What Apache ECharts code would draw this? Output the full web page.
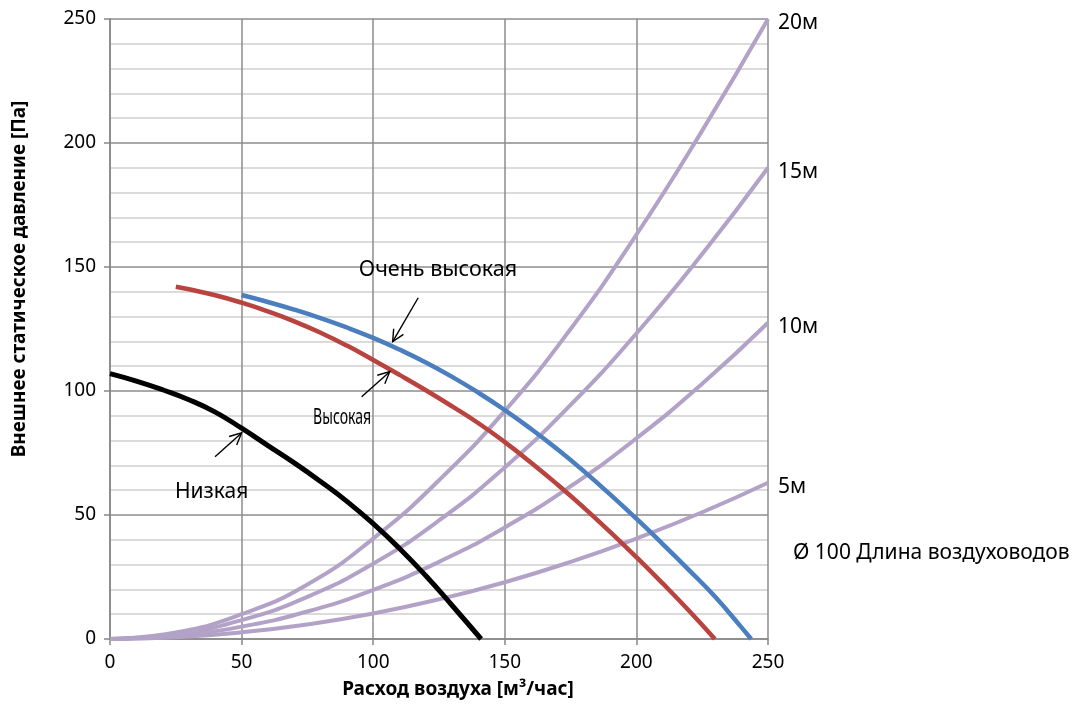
<!DOCTYPE html>
<html>
<head>
<meta charset="utf-8">
<script src="https://cdn.jsdelivr.net/npm/echarts@6/dist/echarts.min.js"></script>
<style>
html,body{margin:0;padding:0;background:#fff;}
#chart{width:1086px;height:709px;}
</style>
</head>
<body>
<div id="chart"></div>
<script>
// ---- data ----
const xTicks = [0, 50, 100, 150, 200, 250];
const yTicks = [0, 50, 100, 150, 200, 250];

const lowX  = [0, 10, 20, 30, 40, 50, 60, 70, 80, 90, 100, 110, 120, 130, 141];
const lowY  = [107, 104, 100.5, 96.5, 91.5, 85, 78, 71, 63.5, 55.5, 46.5, 36.5, 25.5, 13.5, 0];

const highX = [25, 30, 40, 50, 60, 70, 80, 90, 100, 110, 120, 130, 140, 150, 160, 170, 180, 190, 200, 210, 220, 229.8];
const highY = [142, 141, 138.6, 135.6, 132.1, 128.1, 123.5, 118.3, 112.5, 106.5, 100.3, 93.8, 87, 79.4, 71.1, 62.3, 53, 43.2, 33, 22.4, 11.4, 0];

const vhighX = [50, 60, 70, 80, 90, 100, 110, 120, 130, 140, 150, 160, 170, 180, 190, 200, 210, 220, 230, 240, 243.6];
const vhighY = [138.7, 135.9, 132.8, 129.4, 125.6, 121.4, 116.7, 111.5, 105.7, 99.3, 92.3, 84.7, 76.5, 67.7, 58.3, 48.5, 38.3, 27.8, 16.9, 4.6, 0];

const ductX   = [0, 25, 50, 75, 100, 125, 150, 175, 200, 225, 250];
const duct20Y = [0, 2.6, 10, 22, 40.5, 64, 92, 125, 163, 205, 250];
const duct15Y = [0, 2, 7.6, 17, 30.4, 47.8, 69.2, 94.4, 123.2, 155.2, 190];
const duct10Y = [0, 1.4, 5, 11.1, 19.8, 31.1, 45, 61.6, 80.9, 102.9, 127.5];
const duct5Y  = [0, 0.7, 2.7, 5.9, 10.3, 16, 22.9, 31.1, 40.5, 51.1, 63];

const ductNames = ['20м', '15м', '10м', '5м'];
const curveNames = ['Низкая', 'Высокая', 'Очень высокая'];
const xTitle = 'Расход воздуха [м³/час]';
const yTitle = 'Внешнее статическое давление [Па]';
const ductNote = 'Ø 100 Длина воздуховодов';

// annotation anchors in data units
const labelVHigh = [124.6, 148.8];
const labelHigh  = [88.2, 89.1];
const labelLow   = [38.6, 59.4];
const arrowVHigh = [[117.1, 137.6], [107.4, 119.9]];
const arrowHigh  = [[95.6, 97.7], [106.3, 107.8]];
const arrowLow   = [[39.9, 73.5], [50, 83.1]];

const zip = (xs, ys) => xs.map((x, i) => [x, ys[i]]);
const FONT = "'Noto Sans', 'Open Sans', sans-serif";

const chart = echarts.init(document.getElementById('chart'), null, {renderer: 'canvas'});

function ductSeries(name, ys) {
  return {
    name: name, type: 'line', data: zip(ductX, ys), smooth: 0.5, showSymbol: false,
    lineStyle: {color: '#b3a2c7', width: 4}, itemStyle: {color: '#b3a2c7'},
    z: 2,
    endLabel: {show: true, formatter: name, fontSize: 21, fontFamily: FONT, color: '#000', distance: 10, offset: [0, 4]}
  };
}

function mainSeries(name, xs, ys, color, width) {
  return {name: name, type: 'line', data: zip(xs, ys), smooth: 0.5, showSymbol: false,
          lineStyle: {color: color, width: width}, itemStyle: {color: color}, z: 3};
}

const option = {
  animation: false,
  backgroundColor: '#fff',
  grid: {left: 110, top: 19, right: 318, bottom: 70},
  xAxis: {
    type: 'value', min: xTicks[0], max: xTicks[xTicks.length - 1], interval: 50,
    axisLine: {show: true, lineStyle: {color: '#868686', width: 1.5}},
    axisTick: {show: true, length: 6, lineStyle: {color: '#868686', width: 1.5}},
    axisLabel: {fontSize: 19, fontFamily: FONT, color: '#000', margin: 14},
    splitLine: {show: true, lineStyle: {color: '#8c8c8c', width: 1.5}}
  },
  yAxis: {
    type: 'value', min: yTicks[0], max: yTicks[yTicks.length - 1], interval: 50,
    axisLine: {show: true, lineStyle: {color: '#868686', width: 1.5}},
    axisTick: {show: true, length: 6, lineStyle: {color: '#868686', width: 1.5}},
    axisLabel: {fontSize: 19, fontFamily: FONT, color: '#000', margin: 14},
    splitLine: {show: true, lineStyle: {color: '#8c8c8c', width: 1.5}},
    minorTick: {show: false, splitNumber: 5},
    minorSplitLine: {show: true, lineStyle: {color: '#d0d0d0', width: 1.5}}
  },
  series: [
    ductSeries(ductNames[0], duct20Y),
    ductSeries(ductNames[1], duct15Y),
    ductSeries(ductNames[2], duct10Y),
    ductSeries(ductNames[3], duct5Y),
    mainSeries(curveNames[0], lowX, lowY, '#000000', 5),
    mainSeries(curveNames[1], highX, highY, '#b8433f', 4.5),
    mainSeries(curveNames[2], vhighX, vhighY, '#4a7ebe', 4.5)
  ]
};
chart.setOption(option);

// ---- annotations positioned through the chart's own coordinate system ----
const px = (p) => chart.convertToPixel({gridIndex: 0}, p);

function textAt(p, txt, size, extra) {
  const q = px(p);
  return Object.assign({
    type: 'text', x: q[0], y: q[1], z: 10,
    style: {text: txt, fontSize: size, fontFamily: FONT, fill: '#000', align: 'center', verticalAlign: 'middle'}
  }, extra || {});
}

function arrow(seg) {
  const a = px(seg[0]), b = px(seg[1]);
  const ang = Math.atan2(b[1] - a[1], b[0] - a[0]);
  const L = 13, h = 0.45;
  const w1 = [b[0] - L * Math.cos(ang - h), b[1] - L * Math.sin(ang - h)];
  const w2 = [b[0] - L * Math.cos(ang + h), b[1] - L * Math.sin(ang + h)];
  return [
    {type: 'line', z: 10, shape: {x1: a[0], y1: a[1], x2: b[0], y2: b[1]}, style: {stroke: '#000', lineWidth: 1.4}},
    {type: 'polyline', z: 10, shape: {points: [w1, b, w2]}, style: {stroke: '#000', lineWidth: 1.4, fill: null}}
  ];
}

const graphics = [
  textAt(labelVHigh, curveNames[2], 21.5),
  textAt(labelLow, curveNames[0], 21),
  textAt(labelHigh, curveNames[1], 22, {scaleX: 0.64, originX: 0, originY: 0}),
  ...arrow(arrowVHigh), ...arrow(arrowHigh), ...arrow(arrowLow),
  {type: 'text', x: 793, y: 553, z: 10,
   style: {text: ductNote, fontSize: 21, fontFamily: FONT, fill: '#000', align: 'left', verticalAlign: 'middle'}},
  {type: 'text', x: 458, y: 690, z: 10,
   style: {text: xTitle, fontSize: 19, fontWeight: 'bold', fontFamily: FONT, fill: '#000', align: 'center', verticalAlign: 'middle'}},
  {type: 'text', x: 20, y: 279, rotation: Math.PI / 2, z: 10,
   style: {text: yTitle, fontSize: 19, fontWeight: 'bold', fontFamily: FONT, fill: '#000', align: 'center', verticalAlign: 'middle'}}
];
chart.setOption({graphic: graphics});
</script>
</body>
</html>
